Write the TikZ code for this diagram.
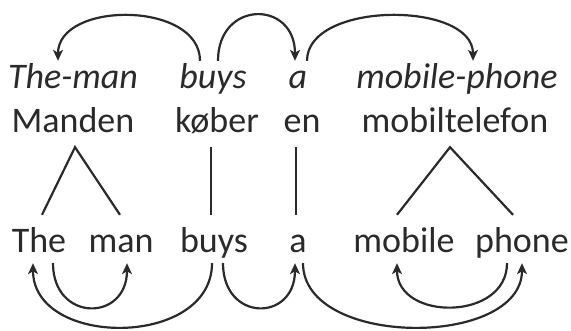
\documentclass[tikz,border=0pt]{standalone}
\usepackage{fontspec}
\setmainfont{Carlito}
\usetikzlibrary{arrows.meta}
\definecolor{ink}{HTML}{2A2A2A}
\tikzset{
  word/.style={anchor=base, inner sep=0pt, text=ink, font=\fontsize{36}{43}\selectfont},
  gloss/.style={word, font=\fontsize{36}{43}\selectfont\itshape, text height=27pt, text depth=8pt},
  dan/.style={word, text height=25pt, text depth=15pt},
  eng/.style={word, text height=37pt, text depth=11pt},
  link/.style={draw=ink, line width=2.2pt},
  dep/.style={draw=ink, line width=2.2pt, -{Stealth[length=11pt,width=10pt,inset=3pt]}},
}
\begin{document}
\begin{tikzpicture}[x=1pt,y=-1pt]
\useasboundingbox (0,0) rectangle (571,330);
% gloss row
\node[gloss] (g1) at (73,88) {The-man};
\node[gloss] (g2) at (213,88) {buys};
\node[gloss] (g3) at (298,88) {a};
\node[gloss] (g4) at (457,88) {mobile-phone};
% Danish row
\node[dan] (d1) at (73,132) {Manden};
\node[dan] (d2) at (217,132) {køber};
\node[dan] (d3) at (302,132) {en};
\node[dan] (d4) at (455,132) {mobiltelefon};
% English row
\node[eng] (e1) at (39,252) {The};
\node[eng] (e2) at (121,252) {man};
\node[eng] (e3) at (214,252) {buys};
\node[eng] (e4) at (298,252) {a};
\node[eng] (e5) at (404,252) {mobile};
\node[eng] (e6) at (522,252) {phone};
% alignment lines
\draw[link] ([xshift=3pt]e1.north) -- ([xshift=2pt]d1.south) -- ([xshift=-1pt]e2.north);
\draw[link] ([xshift=-6pt]d2.south) -- ([xshift=-6pt]d2.south |- e3.north);
\draw[link] ([xshift=-6pt]d3.south) -- ([xshift=-6pt]d3.south |- e4.north);
\draw[link] ([xshift=-7pt]e5.north) -- ([xshift=-5pt]d4.south) -- ([xshift=-9pt]e6.north);
% top dependency arcs
\draw[dep] ([xshift=-13pt]g2.north) .. controls +(0,-60) and +(0,-60) .. ([xshift=-15pt]g1.north);
\draw[dep] ([xshift=5pt]g2.north) .. controls +(0,-61) and +(0,-61) .. ([xshift=-3pt]g3.north);
\draw[dep] ([xshift=9pt]g3.north) .. controls +(0,-60) and +(0,-60) .. ([xshift=16pt]g4.north);
% bottom dependency arcs
\draw[dep] ([xshift=14pt]e1.south) .. controls +(0,59) and +(0,59) .. ([xshift=6pt]e2.south);
\draw[dep] ([xshift=-2pt]e3.south) .. controls +(0,85) and +(0,85) .. ([xshift=-6pt]e1.south);
\draw[dep] ([xshift=9pt]e3.south) .. controls +(0,59) and +(0,59) .. ([xshift=-3pt]e4.south);
\draw[dep] ([xshift=5pt]e4.south) .. controls +(0,85) and +(0,85) .. ([xshift=0pt]e6.south);
\draw[dep] ([xshift=-15pt]e6.south) .. controls +(0,58) and +(0,58) .. ([xshift=-7pt]e5.south);
\end{tikzpicture}
\end{document}
